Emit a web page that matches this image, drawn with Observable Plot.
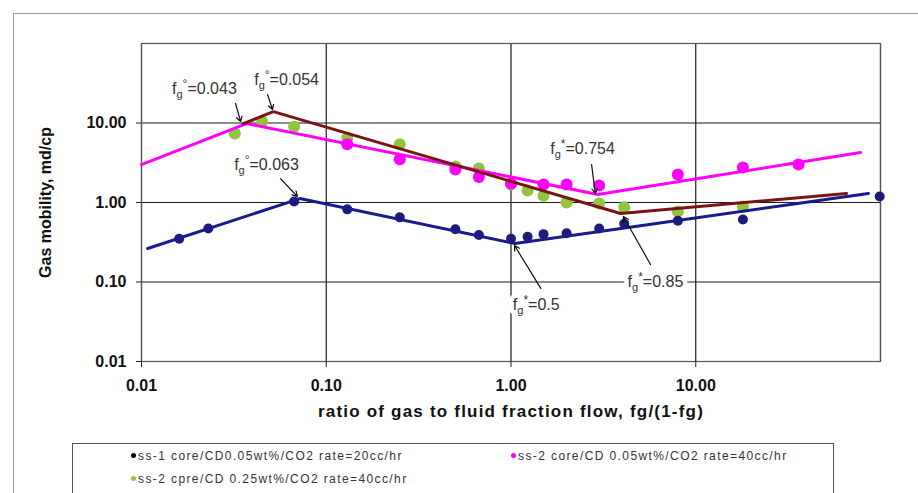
<!DOCTYPE html>
<html><head><meta charset="utf-8">
<script src="https://cdn.jsdelivr.net/npm/d3@7"></script>
<script src="https://cdn.jsdelivr.net/npm/@observablehq/plot@0.6"></script>
<style>
body{margin:0;background:#fff;font-family:"Liberation Sans",Arial,sans-serif;}
#wrap{position:relative;width:918px;height:493px;overflow:hidden;background:#fff;}
#chart{position:absolute;left:0;top:0;}
#border{position:absolute;left:13px;top:13px;width:920px;height:500px;border-top:1.5px solid #999;border-left:1.5px solid #999;pointer-events:none;}
#legend{position:absolute;left:72px;top:443px;width:762px;height:60px;border:1.5px solid #555;box-sizing:border-box;background:#fff;}
.item{position:absolute;font-size:12px;letter-spacing:1.4px;color:#333;white-space:nowrap;line-height:14px;}
.dot{display:inline-block;width:5px;height:5px;border-radius:50%;margin-right:2px;vertical-align:middle;position:relative;top:-1px;}
</style></head>
<body>
<div id="wrap">
  <div id="chart"></div>
  <div id="border"></div>
  <div id="legend"></div>
</div>
<script>
// ---- data ----
const xTicks = [0.01, 0.1, 1, 10];
const yTicks = [0.01, 0.1, 1, 10];
const gridX = [0.01, 0.1, 1, 10, 100];
const gridY = [0.01, 0.1, 1, 10, 100];

const seriesNames = [
  "ss-1 core/CD0.05wt%/CO2 rate=20cc/hr",
  "ss-2 core/CD 0.05wt%/CO2 rate=40cc/hr",
  "ss-2 cpre/CD 0.25wt%/CO2 rate=40cc/hr"
];
const seriesColors = ["#1c1c78", "#ff00ff", "#92c440"];

// ss-1 core, CD 0.05 wt%, 20 cc/hr
const ss1X = [0.016, 0.023, 0.067, 0.13, 0.25, 0.5, 0.67, 1.0, 1.23, 1.5, 2.0, 3.0, 4.1, 8.0, 18, 99];
const ss1Y = [0.35, 0.47, 1.03, 0.82, 0.65, 0.46, 0.39, 0.35, 0.37, 0.40, 0.41, 0.47, 0.54, 0.59, 0.61, 1.19];
// ss-2 core, CD 0.05 wt%, 40 cc/hr
const ss2aX = [0.13, 0.25, 0.5, 0.67, 1.0, 1.5, 2.0, 3.0, 8.0, 18, 36];
const ss2aY = [5.4, 3.5, 2.6, 2.1, 1.73, 1.68, 1.68, 1.64, 2.25, 2.76, 3.0];
// ss-2 cpre, CD 0.25 wt%, 40 cc/hr
const ss2bX = [0.032, 0.045, 0.067, 0.13, 0.25, 0.5, 0.67, 1.0, 1.23, 1.5, 2.0, 3.0, 4.1, 8.0, 18];
const ss2bY = [7.4, 10.4, 9.0, 6.5, 5.4, 2.84, 2.68, 1.68, 1.42, 1.22, 1.0, 0.97, 0.87, 0.77, 0.89];

// piecewise trend lines
const fit1X = [0.0108, 0.072, 1.05, 86];
const fit1Y = [0.264, 1.12, 0.305, 1.30];
const fit2aX = [0.01, 0.037, 2.95, 78];
const fit2aY = [3.0, 9.85, 1.26, 4.26];
const fit2bX = [0.0356, 0.0517, 3.92, 65.5];
const fit2bY = [9.8, 13.9, 0.727, 1.30];
const fitColors = ["#1a1a8e", "#ff00ff", "#7a1414"];

// annotations
const annLabels = ["fg°=0.043", "fg°=0.054", "fg°=0.063", "fg*=0.754", "fg*=0.5", "fg*=0.85"];
const annX = [0.0219, 0.061, 0.0475, 2.44, 1.37, 6.05];
const annY = [27.2, 35.3, 3.0, 4.78, 0.052, 0.1015];
const arrX1 = [0.0323, 0.0481, 0.0565, 2.73, 1.45, 5.69];
const arrY1 = [17.6, 22.8, 2.0, 3.0, 0.083, 0.166];
const arrX2 = [0.0344, 0.0512, 0.0698, 2.86, 1.045, 4.06];
const arrY2 = [10.4, 14.8, 1.19, 1.30, 0.288, 0.667];

const xTitle = "ratio of gas to fluid fraction flow, fg/(1-fg)";
const yTitle = "Gas mobility, md/cp";

// ---- build tables ----
const pts = (xs, ys) => xs.map((x, i) => ({x, y: ys[i]}));
const d1 = pts(ss1X, ss1Y), d2a = pts(ss2aX, ss2aY), d2b = pts(ss2bX, ss2bY);
const f1 = pts(fit1X, fit1Y), f2a = pts(fit2aX, fit2aY), f2b = pts(fit2bX, fit2bY);
const ann = annLabels.map((t, i) => ({t, x: annX[i], y: annY[i]}));
const arr = arrX1.map((x1, i) => ({x1, y1: arrY1[i], x2: arrX2[i], y2: arrY2[i]}));

const chart = Plot.plot({
  width: 918, height: 435,
  marginLeft: 141, marginRight: 38, marginTop: 43, marginBottom: 74,
  style: {background: "transparent", fontFamily: "'Liberation Sans', Arial, sans-serif", color: "#111"},
  x: {type: "log", domain: [0.01, 100]},
  y: {type: "log", domain: [0.01, 100]},
  marks: [
    Plot.ruleX(gridX, {stroke: "#1a1a1a", strokeWidth: 1.2}),
    Plot.ruleY(gridY, {stroke: "#1a1a1a", strokeWidth: 1.2}),
    Plot.frame({stroke: "#555", strokeWidth: 1.2}),
    Plot.axisX(xTicks, {tickFormat: d => d.toFixed(2), tickSize: 6, tickPadding: 12, fontSize: 16, fontWeight: "bold", label: null, stroke: "#222"}),
    Plot.axisY(yTicks, {tickFormat: d => d.toFixed(2), tickSize: 5, tickPadding: 10, fontSize: 16, fontWeight: "bold", label: null, stroke: "#222"}),
    Plot.text([xTitle], {frameAnchor: "bottom", dy: 55, fontSize: 17, fontWeight: "bold", fill: "#111"}),
    Plot.text([yTitle], {frameAnchor: "left", textAnchor: "middle", dx: -96, rotate: -90, fontSize: 16, fontWeight: "bold", fill: "#111"}),
    Plot.dot(d2b, {x: "x", y: "y", r: 6, fill: seriesColors[2]}),
    Plot.dot(d2a, {x: "x", y: "y", r: 6, fill: seriesColors[1]}),
    Plot.dot(d1, {x: "x", y: "y", r: 5, fill: seriesColors[0]}),
    Plot.line(f2a, {x: "x", y: "y", stroke: fitColors[1], strokeWidth: 3}),
    Plot.line(f2b, {x: "x", y: "y", stroke: fitColors[2], strokeWidth: 3}),
    Plot.line(f1, {x: "x", y: "y", stroke: fitColors[0], strokeWidth: 3}),
    Plot.arrow(arr, {x1: "x1", y1: "y1", x2: "x2", y2: "y2", stroke: "#111", strokeWidth: 1.2, headLength: 7}),
    // white halo layer, then text layer
    Plot.text(ann, {x: "x", y: "y", text: "t", fontSize: 16, fill: "white", stroke: "white", strokeWidth: 9}),
    Plot.text(ann, {x: "x", y: "y", text: "t", fontSize: 16, fill: "#333"})
  ]
});

// subscript g and superscript marks in annotation labels
const NS = "http://www.w3.org/2000/svg";
chart.querySelectorAll("text").forEach(t => {
  if (t.textContent === xTitle) { t.style.letterSpacing = "1.2px"; return; }
  const m = t.textContent.match(/^fg([°*])=(.+)$/);
  if (!m) return;
  t.textContent = "";
  const add = (s, attrs) => {
    const e = document.createElementNS(NS, "tspan");
    e.textContent = s;
    for (const k in attrs) e.setAttribute(k, attrs[k]);
    t.appendChild(e);
  };
  add("f", {"font-size": "16"});
  add("g", {dy: "4", "font-size": "11"});
  add(m[1], {dy: "-10", "font-size": "12"});
  add("=" + m[2], {dy: "6", "font-size": "16"});
});
document.getElementById("chart").appendChild(chart);

// legend (Excel-style, two columns)
const legendPos = [[58, 5], [438, 5], [58, 28]];
const legend = document.getElementById("legend");
seriesNames.forEach((name, i) => {
  const it = document.createElement("div");
  it.className = "item";
  it.style.left = legendPos[i][0] + "px";
  it.style.top = legendPos[i][1] + "px";
  const dot = document.createElement("span");
  dot.className = "dot";
  dot.style.background = i === 0 ? "#000" : seriesColors[i];
  it.appendChild(dot);
  it.appendChild(document.createTextNode(name));
  legend.appendChild(it);
});
</script>
</body></html>
